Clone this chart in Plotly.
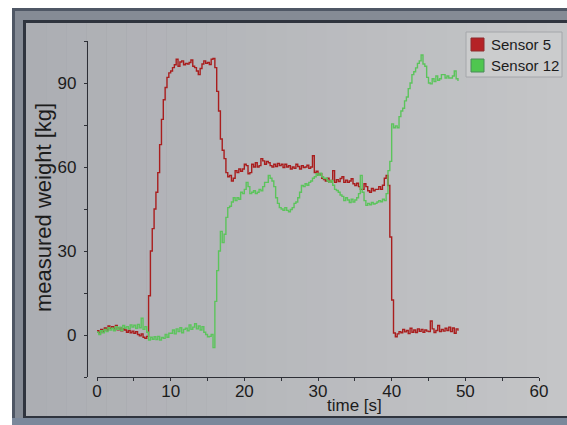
import plotly.graph_objects as go

# ---------------- data ----------------
red_name = "Sensor 5"
green_name = "Sensor 12"

red_time = [i * 0.25 for i in range(198)]  # sample instants 0 .. 49.25 s
red_vals = [
    1.5, 0.8, 2.0, 1.2,   2.5, 1.8, 3.2, 2.4,   3.0, 2.2, 3.4, 1.9,   2.6, 1.5, 2.2, 1.8,
    1.0, 1.6, 0.8, 1.4,   0.6, 1.2, 0.2, -0.3,  0.4, -0.8, -1.2, -0.5,
    14, 30, 38, 45,       51, 58, 68, 77,       84, 88.4, 92, 93.6,
    94.3, 95.5, 96.5, 98.5,  96, 97.5, 97.9, 96.5,  97, 96.8, 97.3, 98.2,  96, 95.5, 94.3, 93,
    95.2, 96.8, 97.9, 97.0,  97.3, 96.6, 98.5, 98.8,  95.5, 87, 80, 70,   66, 63, 58, 56.5,
    57, 55, 56, 58.7,     58, 59.3, 58.5, 59.3,  61, 60.5, 57.6, 58,    61, 60, 61.5, 60,
    60.5, 63, 62.2, 61,   62, 61.5, 60.5, 60,    61, 60.2, 61.3, 60.5,  61, 59.8, 61, 60,
    60.5, 59.3, 60, 59.5, 61, 60.2, 59.3, 60.5,  59.8, 60, 60.6, 59.5,  60, 64, 58, 58.5,
    57, 57.6, 56, 55.5,   55, 56, 54.5, 55.2,    58.7, 54.5, 55.5, 54.8, 55.9, 56.5, 54.5, 55.3,
    54.5, 55, 55.8, 54,   53.4, 54.2, 53, 52,    52, 54, 53, 51.5,      51, 52.3, 51.5, 52,
    52, 53, 52, 53.5,     56, 57, 53.4, 35,      12.5, 0.7, -0.6, 0.4,  1.2, 0.8, 2.0, 1.1,
    1.6, 0.5, 2.4, 1.0,   1.8, 0.9, 2.2, 1.3,    2.0, 1.0, 1.8, 1.4,    1.2, 5.0, 2.2, 0.9,
    1.6, 3.4, 1.2, 2.0,   1.4, 2.4, 1.6, 2.8,    1.2, 2.5, 0.6, 2.2,    1.5,
]

green_time = [i * 0.25 for i in range(198)]
green_vals = [
    1.0, 0.2, 1.5, 0.8,   2.0, 1.2, 2.6, 1.8,    2.4, 1.5, 3.0, 2.0,    2.8, 1.6, 3.4, 2.5,
    3.0, 2.2, 3.6, 2.8,   3.5, 2.4, 3.8, 2.6,    6.0, 2.0, 3.0, 1.0,    -1.8, -0.8, -1.5, -0.6,
    -1.6, -0.5, -1.8, -0.9, -1.2, 0.2, -0.8, 0.6, 0.6, 1.8, 0.4, 2.2,   1.2, 2.6, 0.8, 2.0,
    2.4, 1.5, 3.6, 2.0,   2.8, 4.0, 2.2, 3.2,    1.8, 3.0, 1.0, 0.2,    -0.6, -0.5, 0.2, -4.5,
    12, 23, 30, 37,       33, 36, 42, 45.5,      46, 47.5, 49, 48,      49, 48.5, 51, 50.5,
    52, 54.5, 53, 50.5,   51, 51.5, 50.5, 51,    52, 51.5, 53, 54.5,    54.5, 57, 56, 55,
    53, 49, 47, 45.5,     45, 44.5, 45.5, 44.5,  44, 44.8, 45.5, 47,    47.5, 49, 51, 53.4,
    53, 54, 53.5, 54.5,   55, 56, 56.5, 57.6,    57, 57.8, 56.5, 55.9,  56, 55, 54.5, 55.2,
    53.5, 52, 51.6, 51,   50, 49.5, 48, 49,      48.2, 47.3, 48.5, 47.5, 48.2, 49, 50.5, 57,
    51, 48, 46.3, 47,     46.5, 47.3, 46.8, 47,  47.5, 48, 47.6, 48.5,  48, 50.5, 58.7, 62,
    75.4, 74, 74.7, 74,   78, 80, 81, 83.6,      85, 88, 90, 93,        94, 95.4, 97, 97.9,
    100, 96.8, 96, 92,    90, 89.7, 91.5, 90.5,  92.5, 91, 91.5, 93,    93, 91.8, 92.5, 91.8,
    91.8, 92.5, 94.3, 91.5, 90.7,
]

x_title = "time [s]"
y_title = "measured weight [kg]"
x_range = [0, 60]
y_range = [-15, 105]

# ---------------- styling / layout ----------------
W, H = 567, 425
RED = "#a91e1e"
GREEN = "#5cc45c"
FONT = "Liberation Sans, Arial, sans-serif"
TXT = "#1c1c1c"
AX = "#2d2f36"


def px(x):
    return x / W


def py(y):
    return 1 - y / H


fig = go.Figure()
fig.add_trace(go.Scatter(x=red_time, y=red_vals, mode="lines", line=dict(color=RED, width=1.4, shape="hv"),
                         name=red_name, showlegend=False))
fig.add_trace(go.Scatter(x=green_time, y=green_vals, mode="lines", line=dict(color=GREEN, width=1.4, shape="hv"),
                         name=green_name, showlegend=False))

shapes = []


def rect(x0, y0, x1, y1, fill, line=None, lw=0, layer="below"):
    shapes.append(dict(type="rect", xref="paper", yref="paper", x0=px(x0), x1=px(x1), y0=py(y1), y1=py(y0),
                       fillcolor=fill, line=dict(color=line or fill, width=lw), layer=layer))


# monitor frame
rect(12, 8, 567, 425, "#4f5765")
rect(15, 11, 567, 425, "#858b95")
rect(23, 20, 567, 418, "#2f343e")
# screen area: soft left-to-right brightening like the photo
c0 = (172, 174, 179)
c1 = (196, 197, 199)
n_bands = 27
x_start, x_end = 26, 567
for i in range(n_bands):
    f = i / (n_bands - 1)
    col = "rgb(%d,%d,%d)" % tuple(round(a + (b - a) * f) for a, b in zip(c0, c1))
    xa = x_start + (x_end - x_start) * i / n_bands
    xb = x_start + (x_end - x_start) * (i + 1) / n_bands + 0.6
    rect(xa, 23, min(xb, 567), 416, col)
rect(12, 418, 567, 425, "#7b889b")

# legend box
rect(466, 32, 562, 77, "#cbcccd", line="#a4a6aa", lw=1, layer="above")
rect(471, 38, 484, 51, "#b52226", line="#8e2a2e", lw=1, layer="above")
rect(471, 59, 484, 72, "#4fc64f", line="#4a8a5a", lw=1, layer="above")

annotations = [
    dict(text=red_name, x=px(489), y=py(44.5), xref="paper", yref="paper", xanchor="left", yanchor="middle",
         showarrow=False, font=dict(family=FONT, size=15, color=TXT)),
    dict(text=green_name, x=px(489), y=py(65.5), xref="paper", yref="paper", xanchor="left", yanchor="middle",
         showarrow=False, font=dict(family=FONT, size=15, color=TXT)),
    dict(text=x_title, x=px(354), y=py(405.5), xref="paper", yref="paper", xanchor="center", yanchor="middle",
         showarrow=False, font=dict(family=FONT, size=17, color=TXT)),
    dict(text=y_title, x=px(43), y=py(208), xref="paper", yref="paper", xanchor="center", yanchor="middle",
         textangle=-90, showarrow=False, font=dict(family=FONT, size=22, color=TXT)),
]

fig.update_layout(
    template="none",
    width=W, height=H,
    margin=dict(l=0, r=0, t=0, b=0),
    paper_bgcolor="white",
    plot_bgcolor="rgba(0,0,0,0)",
    showlegend=False,
    shapes=shapes,
    annotations=annotations,
    font=dict(family=FONT, size=17, color=TXT),
    xaxis=dict(domain=[px(97), px(539)], range=x_range, anchor="y", showgrid=False, zeroline=False,
               showline=True, linecolor=AX, linewidth=1.3, ticks="outside", ticklen=3, tickwidth=1.3,
               tickcolor=AX, dtick=10, tick0=0, automargin=False, ticklabelstandoff=-5,
               tickfont=dict(family=FONT, size=17, color=TXT),
               minor=dict(dtick=5, tick0=0, ticks="outside", ticklen=3, tickwidth=1.3, tickcolor=AX)),
    yaxis=dict(domain=[py(377), py(41)], range=y_range, anchor="free", position=px(87), showgrid=False,
               zeroline=False, showline=True, linecolor=AX, linewidth=1.3, ticks="outside", ticklen=3,
               tickwidth=1.3, tickcolor=AX, tickvals=[0, 30, 60, 90], automargin=False, ticklabelstandoff=4,
               tickfont=dict(family=FONT, size=17, color=TXT),
               minor=dict(dtick=15, tick0=0, ticks="outside", ticklen=3, tickwidth=1.3, tickcolor=AX)),
)

fig.write_html(
    "out.html",
    config={"displayModeBar": False},
    post_script="document.body.style.margin='0';document.body.style.overflow='hidden';"
                "document.documentElement.style.overflow='hidden';",
)
